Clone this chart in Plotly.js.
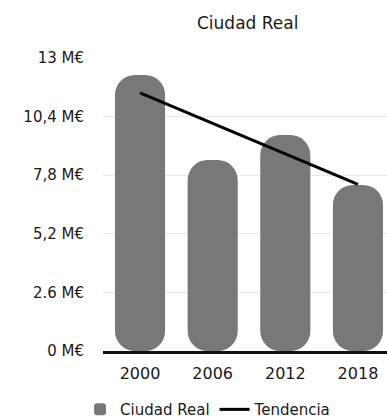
<!DOCTYPE html>
<html>
<head>
<meta charset="utf-8">
<script src="https://cdn.plot.ly/plotly-3.0.1.min.js"></script>
<style>html,body{margin:0;padding:0;background:#fff;}#chart{width:387px;height:420px;}</style>
</head>
<body>
<div id="chart"></div>
<script>
const years = ['2000', '2006', '2012', '2018'];
const values = [12.25, 8.47, 9.58, 7.37];
const bases = [0, 0, 0, 0];
const trendYears = ['2000', '2018'];
const trendValues = [11.45, 7.39];
const tickVals = [0, 2.6, 5.2, 7.8, 10.4, 13];
const tickText = ['0 M€', '2.6 M€', '5,2 M€', '7,8 M€', '10,4 M€', '13 M€'];

const barColor = '#777979';
const font = 'DejaVu Sans, Liberation Sans, Arial, sans-serif';

const traces = [
  {
    type: 'bar', name: 'Ciudad Real', x: years, y: values, base: bases,
    marker: {color: barColor, cornerradius: 20, line: {width: 0}},
    hoverinfo: 'skip'
  },
  {
    type: 'scatter', mode: 'lines', name: 'Tendencia', x: trendYears, y: trendValues,
    line: {color: '#000', width: 3}
  }
];

const layout = {
  width: 387, height: 420,
  margin: {l: 103, r: 0, t: 58, b: 69, autoexpand: false},
  paper_bgcolor: '#fff', plot_bgcolor: '#fff',
  font: {family: font, color: '#1a1a1a', size: 15},
  barmode: 'overlay', bargap: 0.31,
  title: {text: 'Ciudad Real', font: {family: font, size: 17, color: '#1a1a1a'},
          x: 0.64, xref: 'container', xanchor: 'center', y: 0.945, yref: 'container', yanchor: 'middle'},
  xaxis: {type: 'category', range: [-0.51, 3.4], showgrid: false, zeroline: false,
          showline: true, linecolor: '#111', linewidth: 2.5, automargin: false,
          tickfont: {family: font, size: 16, color: '#1a1a1a'}, ticklabelstandoff: 6, fixedrange: true},
  yaxis: {range: [0, 13], tickvals: tickVals, ticktext: tickText, showgrid: true, automargin: false,
          gridcolor: '#e8e8e8', gridwidth: 1, zeroline: false, showline: false,
          tickfont: {family: font, size: 15, color: '#1a1a1a'}, ticklabelstandoff: 18, fixedrange: true},
  legend: {orientation: 'h', x: 0.37, xref: 'paper', xanchor: 'center', y: -0.2, yanchor: 'middle',
           font: {family: font, size: 15, color: '#1a1a1a'}, bgcolor: 'rgba(0,0,0,0)', traceorder: 'normal'},
  showlegend: true
};

Plotly.newPlot('chart', traces, layout, {displayModeBar: false, staticPlot: true});
</script>
</body>
</html>
